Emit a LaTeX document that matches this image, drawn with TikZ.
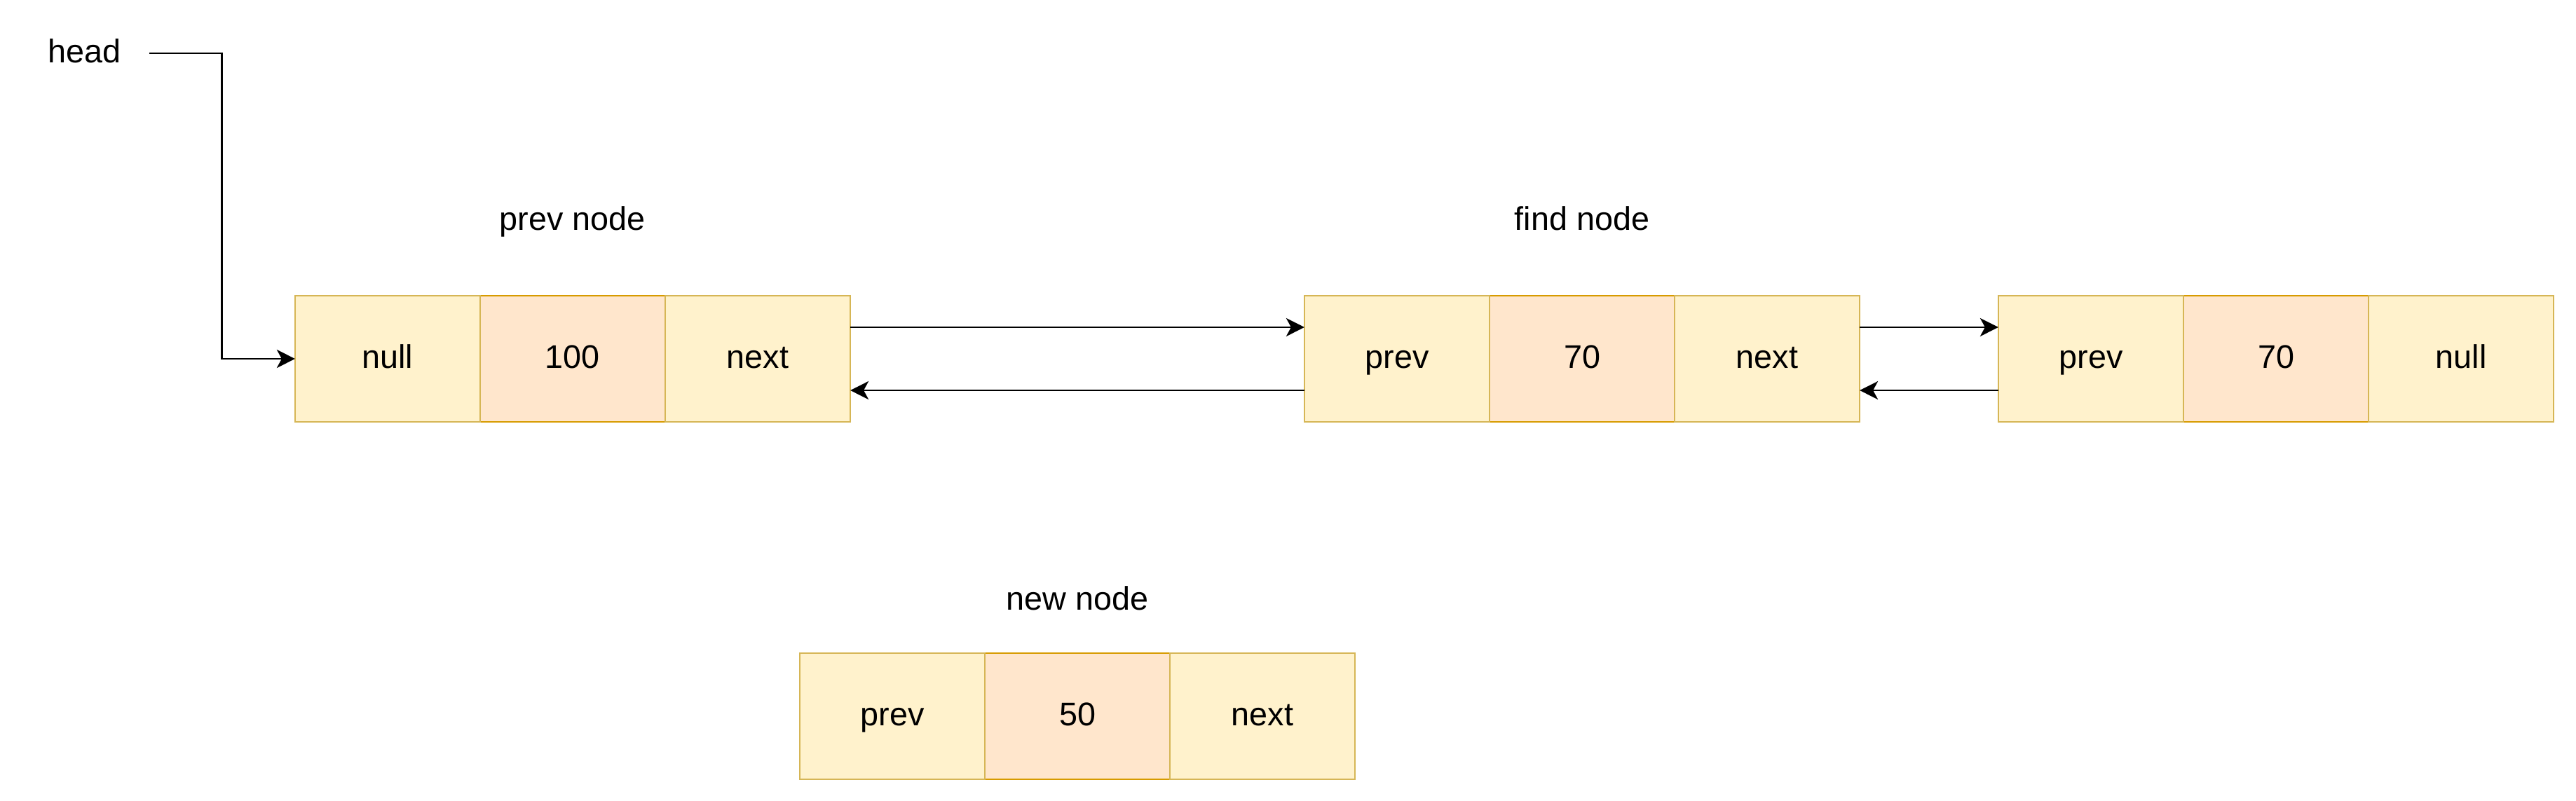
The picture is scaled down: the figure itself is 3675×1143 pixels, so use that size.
\documentclass[tikz,border=0pt]{standalone}
\usepackage{fontspec}
\setmainfont{Liberation Sans}
\usetikzlibrary{arrows.meta}
\definecolor{yfill}{HTML}{FFF2CC}
\definecolor{ydraw}{HTML}{D6B656}
\definecolor{ofill}{HTML}{FFE6CC}
\definecolor{odraw}{HTML}{D79B00}
\tikzset{
  cellbase/.style={rectangle, minimum width=2.64cm, minimum height=1.80cm, inner sep=0pt, outer sep=0pt,
    line width=0.65pt, text height=0.36cm, text depth=0.10cm, font=\fontsize{13.3}{16}\selectfont},
  ycell/.style={cellbase, fill=yfill, draw=ydraw},
  ocell/.style={cellbase, fill=ofill, draw=odraw},
  lbl/.style={inner sep=0pt, font=\fontsize{13.3}{16}\selectfont},
  arr/.style={line width=0.8pt, -{Stealth[length=0.26cm, width=0.26cm, inset=0.07cm]}},
}
\begin{document}
\begin{tikzpicture}[x=0.01cm, y=-0.01cm]
\useasboundingbox (0,0) rectangle (3675,1143);

% head label
\node[lbl, minimum width=1.82cm, text height=0.36cm, text depth=0.10cm] (head) at (121,76) {head};

% prev node (box 1)
\node[ocell] (n1b) at (817,512) {100};
\node[ycell] (n1a) at (553,512) {null};
\node[ycell] (n1c) at (1081,512) {next};
\node[lbl, anchor=base] (l1) at (817,329) {prev node};

% find node (box 2)
\node[ocell] (n2b) at (2257,512) {70};
\node[ycell] (n2a) at (1993,512) {prev};
\node[ycell] (n2c) at (2521,512) {next};
\node[lbl, anchor=base] (l2) at (2257,329) {find node};

% last node (box 3)
\node[ocell] (n3b) at (3247,512) {70};
\node[ycell] (n3a) at (2983,512) {prev};
\node[ycell] (n3c) at (3511,512) {null};

% new node
\node[ocell] (n4b) at (1537,1022) {50};
\node[ycell] (n4a) at (1273,1022) {prev};
\node[ycell] (n4c) at (1801,1022) {next};
\node[lbl, anchor=base] (l4) at (1537,870) {new node};

% connectors
\draw[arr] (head.east) -- ++(1.04cm,0) |- (n1a.west);
\draw[arr] ([yshift=0.45cm]n1c.east) -- ([yshift=0.45cm]n2a.west);
\draw[arr] ([yshift=-0.45cm]n2a.west) -- ([yshift=-0.45cm]n1c.east);
\draw[arr] ([yshift=0.45cm]n2c.east) -- ([yshift=0.45cm]n3a.west);
\draw[arr] ([yshift=-0.45cm]n3a.west) -- ([yshift=-0.45cm]n2c.east);
\end{tikzpicture}
\end{document}
